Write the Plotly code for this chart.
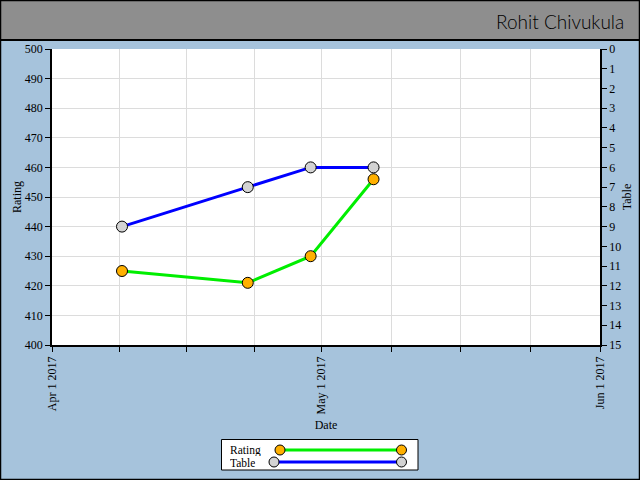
import plotly.graph_objects as go

dates = ["2017-04-08 19:00", "2017-04-22 19:00", "2017-04-29 19:00", "2017-05-06 19:00"]
rating = [425, 421, 430, 456]
table = [9, 7, 6, 6]

x_tickvals = ["2017-04-01", "2017-04-08 12:00", "2017-04-16", "2017-04-23 12:00",
              "2017-05-01", "2017-05-08 18:00", "2017-05-16 12:00", "2017-05-24 06:00", "2017-06-01"]
x_ticktext = ["Apr 1 2017", "", "", "", "May 1 2017", "", "", "", "Jun 1 2017"]

BG = "#a6c3dc"
FONT = "Liberation Serif"

# plot area in pixels
L, R, T, B = 52, 600, 49, 345
W, H = R - L, B - T
def px(x): return (x - L) / W
def py(y): return (B - y) / H

fig = go.Figure()
fig.add_trace(go.Scatter(x=dates, y=table, yaxis="y2", mode="lines+markers", name="Table",
                         line=dict(color="#0000ff", width=3),
                         marker=dict(size=11, color="#d3d3d3", line=dict(color="black", width=1))))
fig.add_trace(go.Scatter(x=dates, y=rating, mode="lines+markers", name="Rating",
                         line=dict(color="#00ee00", width=3),
                         marker=dict(size=11, color="#ffb000", line=dict(color="black", width=1))))

shapes = [
    dict(type="rect", xref="paper", yref="paper", x0=px(0), x1=px(640), y0=py(0), y1=py(40),
         fillcolor="#8e8e8e", line=dict(color="black", width=2), layer="below"),
    dict(type="rect", xref="paper", yref="paper", x0=px(0.5), x1=px(639.5), y0=py(0.5), y1=py(479.5),
         line=dict(color="black", width=1.5)),
    # legend box
    dict(type="rect", xref="paper", yref="paper", x0=px(221.5), x1=px(418), y0=py(439.5), y1=py(470),
         fillcolor="white", line=dict(color="black", width=1)),
    dict(type="line", xref="paper", yref="paper", x0=px(280), x1=px(401), y0=py(450), y1=py(450),
         line=dict(color="#00ee00", width=3)),
    dict(type="line", xref="paper", yref="paper", x0=px(274), x1=px(401), y0=py(462), y1=py(462),
         line=dict(color="#0000ff", width=3)),
]
r = 5
for cx, cy, col in [(280, 450, "#ffb000"), (401.5, 450, "#ffb000"), (274, 462, "#d3d3d3"), (401.5, 462, "#d3d3d3")]:
    shapes.append(dict(type="circle", xref="paper", yref="paper", x0=px(cx - r), x1=px(cx + r),
                       y0=py(cy + r), y1=py(cy - r), fillcolor=col, line=dict(color="black", width=1)))

annotations = [
    dict(text="Rohit Chivukula", xref="paper", yref="paper", x=px(626), y=py(21), xanchor="right",
         yanchor="middle", showarrow=False,
         font=dict(family="Lato", size=19, weight=300, color="black")),
    dict(text="Rating", xref="paper", yref="paper", x=px(228), y=py(450), xanchor="left", yanchor="middle",
         showarrow=False, height=11, font=dict(family=FONT, size=11.5, color="black")),
    dict(text="Table", xref="paper", yref="paper", x=px(228), y=py(462.5), xanchor="left", yanchor="middle",
         showarrow=False, height=11, font=dict(family=FONT, size=11.5, color="black")),
]

fig.update_layout(
    width=640, height=480,
    margin=dict(l=L, r=640 - R, t=T, b=480 - B, autoexpand=False),
    paper_bgcolor=BG, plot_bgcolor="white",
    showlegend=False,
    font=dict(family=FONT, size=12, color="black"),
    xaxis=dict(type="date", range=["2017-04-01", "2017-06-01"], tickmode="array",
               tickvals=x_tickvals, ticktext=x_ticktext, tickangle=-90, automargin=False,
               ticks="outside", ticklen=5, tickcolor="black", showline=True, linecolor="black",
               linewidth=1.5, showgrid=True, gridcolor="#dcdcdc", zeroline=False,
               title=dict(text="Date", standoff=7, font=dict(size=12))),
    yaxis=dict(range=[400, 500], dtick=10, ticks="outside", ticklen=5, tickcolor="black",
               showline=True, linecolor="black", linewidth=1.5, showgrid=True, gridcolor="#dcdcdc",
               automargin=False,
               zeroline=False, title=dict(text="Rating", standoff=1, font=dict(size=12))),
    yaxis2=dict(range=[15, 0], dtick=1, overlaying="y", side="right", ticks="outside", ticklen=5,
                tickcolor="black", showline=True, linecolor="black", linewidth=1.5, showgrid=False,
                automargin=False,
                zeroline=False, title=dict(text="Table", standoff=2, font=dict(size=12))),
    shapes=shapes, annotations=annotations,
)

fig.write_html("out.html", config={"displayModeBar": False},
               post_script="document.documentElement.style.overflow='hidden';"
                           "document.body.style.margin='0px';document.body.style.overflow='hidden';")
